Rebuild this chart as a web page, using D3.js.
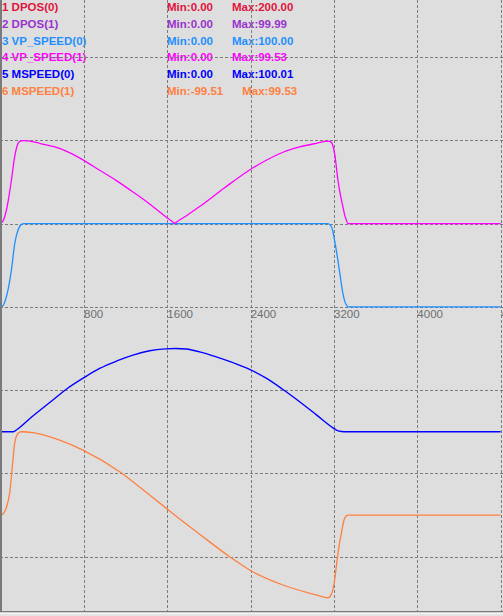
<!DOCTYPE html>
<meta charset="utf-8">
<script src="https://cdn.jsdelivr.net/npm/d3@7"></script>
<style>
  body { margin: 0; background: #dedede; overflow: hidden; }
  svg { display: block; }
  .legend text { font-family: "Liberation Sans", Arial, sans-serif; font-size: 11.5px; font-weight: bold; }
  .xaxis text { font-family: "Liberation Sans", Arial, sans-serif; font-size: 11.5px; fill: #6e6e6e; }
  .grid line { stroke: #7c7c7c; stroke-dasharray: 3,2; }
</style>
<body>
<div id="chart"></div>
<script>
// legend rows
const names = ["1 DPOS(0)", "2 DPOS(1)", "3 VP_SPEED(0)", "4 VP_SPEED(1)", "5 MSPEED(0)", "6 MSPEED(1)"];
const minLabels = ["Min:0.00", "Min:0.00", "Min:0.00", "Min:0.00", "Min:0.00", "Min:-99.51"];
const maxLabels = ["Max:200.00", "Max:99.99", "Max:100.00", "Max:99.53", "Max:100.01", "Max:99.53"];
const colors = ["#e0143c", "#9a32cd", "#1e90ff", "#ff00ff", "#0000ff", "#ff8040"];

const xTicks = [800, 1600, 2400, 3200, 4000, 4800];

// [time, value]
const vpSpeed0 = [[0,0],[20,1],[40,6],[70,20],[103,44],[135,76],[166,92],[199,99],[225,100],
  [3140,100],[3165,98],[3187,92],[3205,80],[3226,65],[3255,41],[3284,17],[3305,6],[3320,2],[3335,0],[4800,0]];
const vpSpeed1 = [[0,0],[30,5],[55,16],[80,33],[103,52],[134,80],[166,96],[189,99],[215,99.6],[307,98.5],
  [374,96.4],[566,90.4],[680,84],[790,76.5],[950,64],[1111,51.6],[1270,38],[1430,23.6],[1591,7.6],[1665,0.6],[1670,0],
  [1676,0.6],[1790,10],[1910,20.4],[2150,43],[2390,64.4],[2550,76],[2710,85.6],[2870,92],[3031,96.4],[3142,99],
  [3175,97.5],[3206,84],[3238,52],[3262,34],[3286,20],[3305,9],[3319,4],[3334,0],[4800,0]];
const mspeed0 = [[0,0],[120,0],[160,3],[300,18],[480,36],[640,52],[800,65],[950,76],[1115,85],[1270,92],
  [1430,97.2],[1580,99.5],[1680,100],[1780,99.3],[1910,96],[2070,90],[2230,83],[2390,75],[2553,64],[2707,51],[2870,36],
  [3034,20],[3187,5],[3240,1],[3300,0],[4800,0]];
const mspeed1 = [[0,0],[20,1],[38,4],[62,12],[86,26],[112,58],[134,86],[166,98],[199,100],[310,99],
  [566,90],[790,78],[1142,52],[1430,24],[1591,8],[1670,0],[1910,-23],[2198,-50],[2390,-66],[2710,-84],
  [3031,-96],[3142,-99.5],[3175,-95],[3206,-78],[3222,-62],[3238,-46],[3270,-22],[3302,-4],[3334,0],[4800,0]];

const width = 503, height = 616;

// each trace sits on its own zero row, 100 units per grid division
const traces = [
  { data: vpSpeed0, color: colors[2], base: 3,   w: 1.3 },
  { data: vpSpeed1, color: colors[3], base: 2,   w: 1.3 },
  { data: mspeed0,  color: colors[4], base: 4.5, w: 1.4 },
  { data: mspeed1,  color: colors[5], base: 5.5, w: 1.3 }
];

const x = d3.scaleLinear().domain([0, 4800]).range([0.67, 500.67]);
const y = d3.scaleLinear().domain([0, 6]).range([57, 556.67]);

const svg = d3.select("#chart").append("svg")
    .attr("width", width)
    .attr("height", height);

svg.append("rect")
    .attr("width", width).attr("height", height)
    .attr("fill", "#dedede");

// legend
const legend = svg.append("g").attr("class", "legend");
names.forEach((n, i) => {
  const yy = 11.3 + i * 16.67;
  legend.append("text").attr("x", 2).attr("y", yy).attr("fill", colors[i]).text(n);
  const mn = legend.append("text").attr("x", 167).attr("y", yy).attr("fill", colors[i]).text(minLabels[i]);
  const mx = Math.max(231, 167 + mn.node().getComputedTextLength() + 19);
  legend.append("text").attr("x", mx).attr("y", yy).attr("fill", colors[i]).text(maxLabels[i]);
});

// x tick labels
const xAxis = svg.append("g")
    .attr("class", "xaxis")
    .attr("transform", "translate(0,307)")
    .call(d3.axisBottom(x).tickValues(xTicks).tickSize(0).tickFormat(d3.format("d")));
xAxis.select(".domain").remove();
xAxis.selectAll("text")
    .attr("text-anchor", "start")
    .attr("x", -0.5)
    .attr("y", 2.6);

// grid
const grid = svg.append("g").attr("class", "grid");
grid.selectAll("line.v")
  .data(xTicks)
  .enter().append("line")
    .attr("x1", d => Math.round(x(d)) + 0.5).attr("x2", d => Math.round(x(d)) + 0.5)
    .attr("y1", 0).attr("y2", 612);
grid.selectAll("line.h")
  .data(d3.range(0, 7))
  .enter().append("line")
    .attr("x1", 0).attr("x2", width)
    .attr("y1", d => Math.round(y(d)) + 0.5).attr("y2", d => Math.round(y(d)) + 0.5);

// traces
traces.forEach(t => {
  const line = d3.line()
      .curve(d3.curveMonotoneX)
      .x(d => x(d[0]))
      .y(d => y(t.base - d[1] / 100));
  svg.append("path")
      .datum(t.data)
      .attr("fill", "none")
      .attr("stroke", t.color)
      .attr("stroke-width", t.w)
      .attr("stroke-linejoin", "round")
      .attr("d", line);
});

// frame
svg.append("rect").attr("x", 0).attr("y", 0).attr("width", 2).attr("height", 612).attr("fill", "#7a7a7a");
svg.append("rect").attr("x", 0).attr("y", 611).attr("width", width).attr("height", 1.5).attr("fill", "#7a7a7a");
svg.append("rect").attr("x", 0).attr("y", 612.5).attr("width", width).attr("height", 1.5).attr("fill", "#f4f4f4");
svg.append("rect").attr("x", 0).attr("y", 614).attr("width", width).attr("height", 2).attr("fill", "#e4e4e4");
</script>
</body>
